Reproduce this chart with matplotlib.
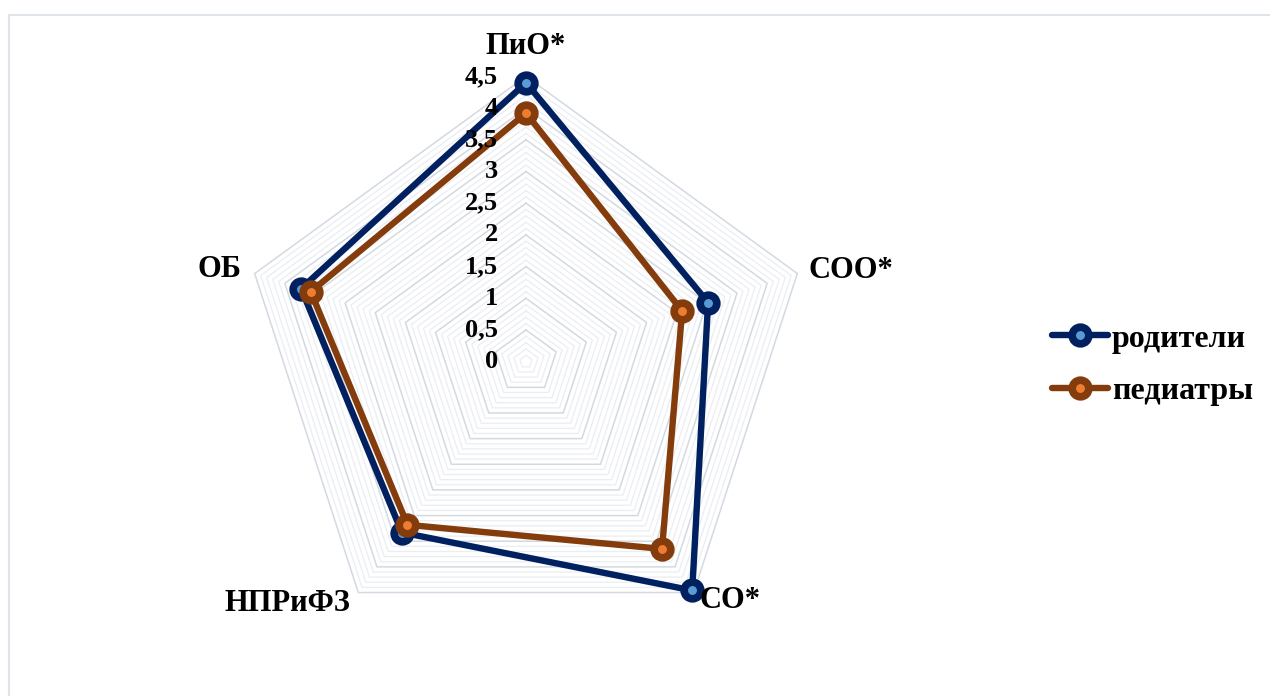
import numpy as np
import matplotlib
matplotlib.use("Agg")
import matplotlib.pyplot as plt
from matplotlib.patches import Rectangle
from matplotlib.lines import Line2D
import matplotlib.transforms as mtransforms

plt.rcParams['font.family'] = ['Liberation Serif', 'DejaVu Serif']

categories = ['ПиО*', 'СОО*', 'СО*', 'НПРиФЗ', 'ОБ']
parents = [4.40, 3.02, 4.46, 3.33, 3.73]
pediatricians = [3.92, 2.59, 3.65, 3.18, 3.57]
series_names = ['родители', 'педиатры']
tick_values = [0, 0.5, 1, 1.5, 2, 2.5, 3, 3.5, 4, 4.5]
tick_labels = ['0', '0,5', '1', '1,5', '2', '2,5', '3', '3,5', '4', '4,5']

W, H = 1270, 696
fig = plt.figure(figsize=(W / 100, H / 100), dpi=100)

# outer chart border
fig.patches.append(Rectangle((9 / W, -0.02), 1.05, (H - 15) / H + 0.02,
                             transform=fig.transFigure, fill=False,
                             edgecolor='#dfe3ea', linewidth=1.5))

cx, cy, R = 526, 361.7, 285.3
ax = fig.add_axes([(cx - R) / W, (H - cy - R) / H, 2 * R / W, 2 * R / H],
                  projection='polar')
ax.set_theta_offset(np.pi / 2)
ax.set_theta_direction(-1)
ax.set_ylim(0, 4.5)
ax.grid(False)
ax.spines['polar'].set_visible(False)
ax.set_xticks([])
ax.set_yticks([])
ax.patch.set_alpha(0)

n = len(categories)
theta = np.arange(n) * 2 * np.pi / n
theta_c = np.append(theta, theta[0])

# gridlines: minor every 0.1, major every 0.5
for i in range(1, 46):
    v = i / 10
    major = (i % 5 == 0)
    ax.plot(theta_c, [v] * (n + 1),
            color='#d3d9e3' if major else '#eaedf2',
            lw=1.1 if major else 0.9, zorder=1, clip_on=False)

styles = [
    dict(color='#002060', mfc='#5b9bd5', mec='#002060'),
    dict(color='#843c0c', mfc='#ed7d31', mec='#843c0c'),
]
handles = []
for vals, name, st in zip([parents, pediatricians], series_names, styles):
    vc = np.append(vals, vals[0])
    ax.plot(theta_c, vc, color=st['color'], lw=4.6, zorder=3, clip_on=False,
            solid_joinstyle='miter')
    ax.plot(theta, vals, linestyle='none', marker='o', ms=12, mew=5.5,
            mfc=st['mfc'], mec=st['mec'], zorder=4, clip_on=False)
    handles.append(Line2D([0], [0], color=st['color'], lw=4.6, marker='o',
                          ms=12, mew=5.5, mfc=st['mfc'], mec=st['mec'],
                          solid_capstyle='round'))

# radial tick labels
off = mtransforms.ScaledTranslation(-0.28, 0, fig.dpi_scale_trans)
for v, lab in zip(tick_values, tick_labels):
    ax.text(0, v, lab, transform=ax.transData + off, ha='right', va='center',
            fontsize=19, fontweight='bold', color='black', zorder=5)

# category labels
lab_pos = [(4.74, 'center', 'bottom'), (4.68, 'left', 'center'),
           (4.65, 'left', 'center'), (4.72, 'right', 'center'),
           (4.72, 'right', 'center')]
for t, cat, (r, ha, va) in zip(theta, categories, lab_pos):
    ax.text(t, r, cat, ha=ha, va=va, fontsize=22, fontweight='bold',
            color='black', zorder=5)

fig.legend(handles, series_names, loc='center left',
           bbox_to_anchor=(1052 / W, 1 - 365 / H), frameon=False,
           prop={'size': 23, 'weight': 'bold'}, handlelength=1.75,
           handletextpad=0.12, labelspacing=0.72, borderpad=0,
           borderaxespad=0)

fig.savefig('out.png', dpi=100, facecolor='white')
